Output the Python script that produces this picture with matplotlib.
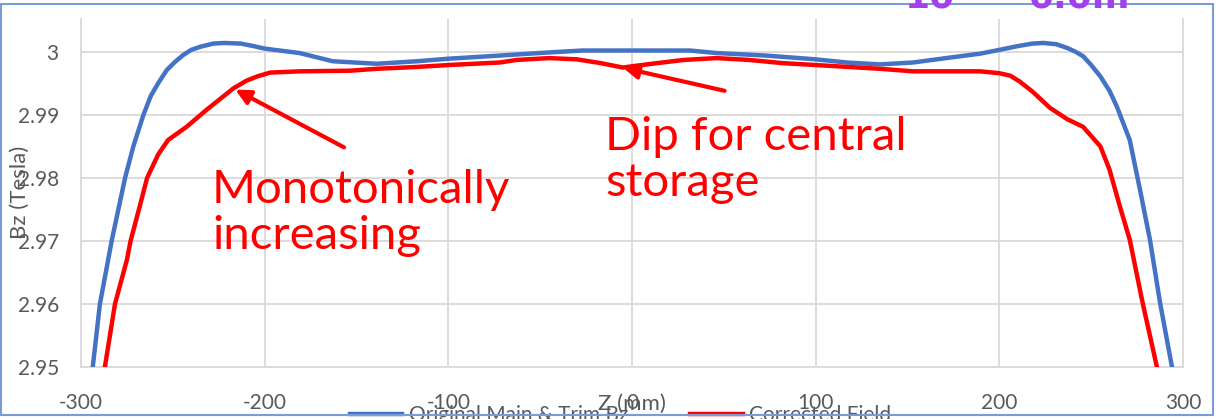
import matplotlib.pyplot as plt
import matplotlib.patches as patches

# Data
z_orig = [-293.6, -289.7, -283.3, -276, -271.5, -266, -262, -258, -253.3, -248.8,
          -244.3, -240, -235, -228, -222, -213, -206, -200, -181, -163,
          -139, -117, -100, -72, -45, -27, 0, 31.6, 46, 73,
          100, 117, 135, 153, 171, 189.5, 200, 210, 218, 224,
          231, 237, 241.5, 245.6, 250, 255, 260, 264, 271, 276.6,
          282, 287.5, 294]
bz_orig = [2.950, 2.960, 2.970, 2.980, 2.985, 2.990, 2.9930, 2.9950, 2.9971, 2.9984,
           2.9995, 3.0003, 3.0008, 3.0013, 3.0014, 3.0013, 3.0009, 3.0005, 2.9998, 2.9985,
           2.9981, 2.9985, 2.9989, 2.9994, 2.9999, 3.0002, 3.0002, 3.0002, 2.9998, 2.9994,
           2.9988, 2.9983, 2.9980, 2.9983, 2.9990, 2.9997, 3.0003, 3.0009, 3.0013, 3.0014,
           3.0012, 3.0006, 3.0000, 2.9993, 2.9979, 2.9961, 2.9938, 2.9913, 2.9860, 2.9781,
           2.9702, 2.9602, 2.950]

z_corr = [-287, -281.5, -275, -273, -268, -264, -258, -252.6, -242.5, -231.6,
          -222.6, -217, -210, -204, -197, -181, -153.5, -139, -117, -100,
          -72, -63, -45, -30, -17, -5, 0, 13.6, 28, 46,
          64, 82, 100, 135, 153, 189.5, 200, 206, 211, 218,
          227.6, 237, 245.6, 255, 260, 265.7, 271, 278, 285.8]
bz_corr = [2.950, 2.960, 2.967, 2.970, 2.9755, 2.980, 2.9837, 2.986, 2.9881, 2.9908,
           2.9929, 2.9942, 2.9954, 2.9961, 2.9967, 2.9969, 2.9970, 2.9973, 2.9976, 2.9979,
           2.9983, 2.9987, 2.9990, 2.9988, 2.9982, 2.9975, 2.9977, 2.9982, 2.9987, 2.9990,
           2.9987, 2.9982, 2.9979, 2.9973, 2.9969, 2.9969, 2.9966, 2.9962, 2.9953, 2.9937,
           2.9911, 2.9893, 2.9881, 2.9850, 2.9813, 2.9754, 2.9702, 2.9602, 2.950]

x_ticks = [-300, -200, -100, 0, 100, 200, 300]
y_ticks = [2.95, 2.96, 2.97, 2.98, 2.99, 3.0]
y_tick_labels = ['2.95', '2.96', '2.97', '2.98', '2.99', '3']

plt.rcParams['font.family'] = ['Lato', 'DejaVu Sans']

W, H = 1217, 419
fig = plt.figure(figsize=(W / 100, H / 100), dpi=100)
ax = fig.add_axes([81 / W, 1 - 367 / H, 1102 / W, 348 / H])

grey = '#595959'
grid_c = '#D9D9D9'

ax.plot(z_orig, bz_orig, color='#4472C4', lw=3.2, label='Original Main & Trim Bz', zorder=3,
        solid_joinstyle='round')
ax.plot(z_corr, bz_corr, color='#FF0000', lw=3.2, label='Corrected Field', zorder=3,
        solid_joinstyle='round')

ax.set_xlim(-300, 300)
ax.set_ylim(2.95, 3.0052)
ax.set_xticks(x_ticks)
ax.set_xticklabels([str(t) for t in x_ticks])
ax.set_yticks(y_ticks)
ax.set_yticklabels(y_tick_labels)
ax.tick_params(length=0, labelsize=15, labelcolor=grey)
ax.tick_params(axis='y', pad=16)
ax.tick_params(axis='x', pad=19)
ax.grid(True, color=grid_c, lw=1.3)
ax.set_axisbelow(True)
ax.spines['top'].set_visible(False)
for s in ['left', 'bottom', 'right']:
    ax.spines[s].set_color(grid_c)
    ax.spines[s].set_linewidth(1.3)

ax.set_xlabel('Z (mm)', fontsize=16, color=grey, va='center')
ax.xaxis.set_label_coords(0.5, -0.106)
ax.set_ylabel('Bz (Tesla)', fontsize=16, color=grey, va='center', ha='center')
ax.yaxis.set_label_coords(-0.0554, 0.503)

# Annotations
red = '#FF0000'
ax.text(-228.7, 2.9744, 'Monotonically\nincreasing', color=red, fontsize=34,
        ha='left', va='center', linespacing=1.12)
ax.text(-14.7, 2.9829, 'Dip for central\nstorage', color=red, fontsize=34,
        ha='left', va='center', linespacing=1.12)
arrow = dict(arrowstyle='-|>', color=red, lw=3, mutation_scale=22, shrinkA=0, shrinkB=0)
ax.annotate('', xy=(-216, 2.9940), xytext=(-156.8, 2.98484), arrowprops=arrow)
ax.annotate('', xy=(-4.9, 2.99746), xytext=(50.4, 2.99381), arrowprops=arrow)

# Legend at the very bottom (clipped by the frame like the original)
leg = ax.legend(loc='center', bbox_to_anchor=(0.51, 1 - 415 / H), bbox_transform=fig.transFigure,
                ncol=2, frameon=False, fontsize=15, handlelength=2.5, handletextpad=0.3,
                columnspacing=3.0)
for t in leg.get_texts():
    t.set_color(grey)

# Chart frame and the cut-off slide text above it
fig.patches.append(patches.Rectangle((1 / W, 4 / H), 1212 / W, 411 / H, transform=fig.transFigure,
                                     fill=False, edgecolor='#7A9BD8', lw=1.5))
fig.text(905 / W, 1 - 7 / H, '10', color='#A040F0', fontsize=26, fontweight='bold',
         family='DejaVu Sans', ha='left', va='baseline')
fig.text(1028 / W, 1 - 7 / H, '0.0m', color='#A040F0', fontsize=26, fontweight='bold',
         family='DejaVu Sans', ha='left', va='baseline')

fig.savefig('out.png', dpi=100)
